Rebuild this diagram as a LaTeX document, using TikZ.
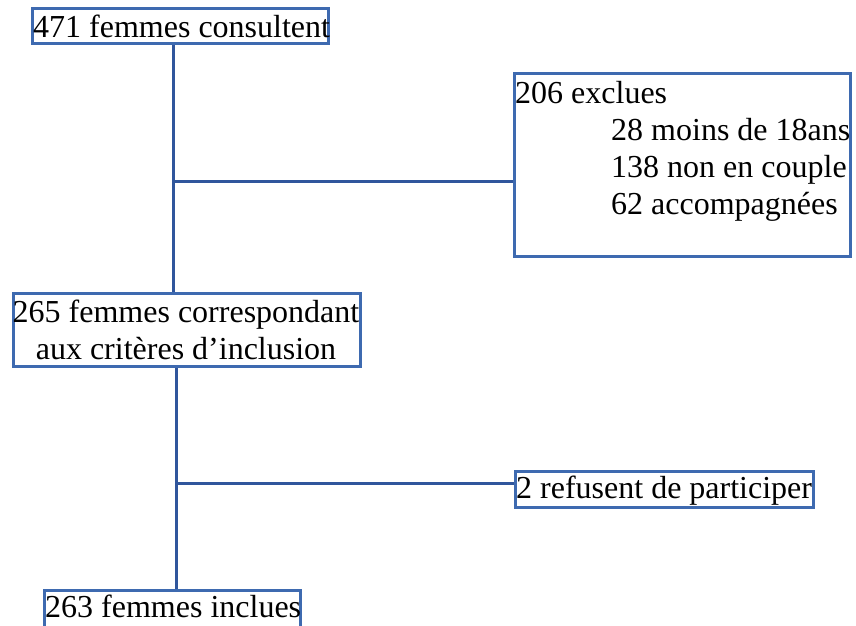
\documentclass[tikz,border=0pt]{standalone}
\usepackage{fontspec}
\setmainfont{Liberation Serif}
\definecolor{boxblue}{RGB}{62,106,176}
\definecolor{lineblue}{RGB}{48,86,156}
\begin{document}
\begin{tikzpicture}[x=1pt,y=-1pt,
  box/.style={draw=boxblue,line width=3pt,rectangle,inner sep=0pt},
  txt/.style={inner sep=0pt,anchor=base west,font=\fontsize{32}{37}\selectfont},
  conn/.style={draw=lineblue,line width=3pt}]
\clip (0,0) rectangle (856,625);
\fill[white] (0,0) rectangle (856,625);
% boxes
\node[box,minimum width=296pt,minimum height=35pt] (b1) at (180,25.5) {};
\node[box,minimum width=336pt,minimum height=183pt] (b206) at (682,164.5) {};
\node[box,minimum width=347pt,minimum height=73pt] (b2) at (186.5,329.5) {};
\node[box,minimum width=298pt,minimum height=36pt] (b3) at (664,489) {};
\node[box,minimum width=256pt,minimum height=40pt] (b4) at (172,610) {};
% texts
\node[txt] (t1) at (33,37) {471 femmes consultent};
\node[txt] (t206a) at (515,103) {206 exclues};
\node[txt] (t206b) at (611,140) {28 moins de 18ans};
\node[txt] (t206c) at (611,177) {138 non en couple};
\node[txt] (t206d) at (611,214) {62 accompagnées};
\node[txt,anchor=base] (t2a) at (186,322) {265 femmes correspondant};
\node[txt,anchor=base] (t2b) at (186,359) {aux critères d’inclusion};
\node[txt] (t3) at (516,498) {2 refusent de participer};
\node[txt] (t4) at (45,617) {263 femmes inclues};
% connectors
\coordinate (j1) at (173,181);
\coordinate (j2) at (176,483);
\draw[conn] (b1.south -| j1) -- (b2.north -| j1);
\draw[conn] (j1) -- (b206.west |- j1);
\draw[conn] (b2.south -| j2) -- (b4.north -| j2);
\draw[conn] (j2) -- (b3.west |- j2);
\end{tikzpicture}
\end{document}
